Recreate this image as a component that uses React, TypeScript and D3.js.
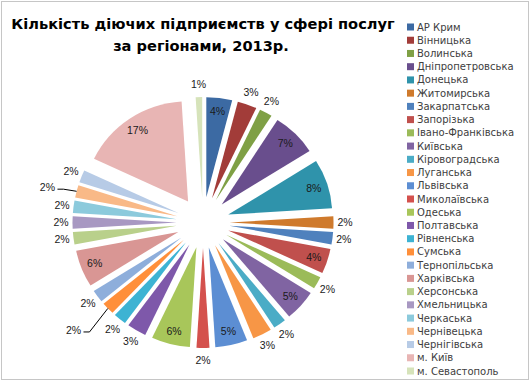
import React from 'react';
import * as d3 from 'd3';

const regions = [
  'АР Крим', 'Вінницька', 'Волинська', 'Дніпропетровська', 'Донецька', 'Житомирська',
  'Закарпатська', 'Запорізька', 'Івано-Франківська', 'Київська', 'Кіровоградська', 'Луганська',
  'Львівська', 'Миколаївська', 'Одеська', 'Полтавська', 'Рівненська', 'Сумська',
  'Тернопільська', 'Харківська', 'Херсонська', 'Хмельницька', 'Черкаська', 'Чернівецька',
  'Чернігівська', 'м. Київ', 'м. Севастополь',
];
const shares = [4, 3, 2, 7, 8, 2, 2, 4, 2, 5, 2, 3, 5, 2, 6, 3, 2, 2, 2, 6, 2, 2, 2, 2, 2, 17, 1];
const titleLines = ['Кількість діючих підприємств у сфері послуг', 'за регіонами, 2013р.'];

const sliceColors = [
  '#3C6AA3', '#A23C39', '#7FA045', '#694E8D', '#2F93AB', '#CF7A2C',
  '#4F81BD', '#C0504D', '#9BBB59', '#8064A2', '#4BACC6', '#F79646',
  '#5C8ED3', '#D4514D', '#A8C65A', '#7E58AA', '#3DB3D3', '#FF8F3A',
  '#8EAEDB', '#D99694', '#B9D08B', '#A898C2', '#8CCADC', '#F9B987',
  '#B7CBE6', '#E8B5B4', '#D6E3BA',
];
// labels that Excel moved away from their slice, drawn with a leader line
const leaderShift: Record<string, [number, number]> = {
  'Сумська': [-26, 13],
  'Чернівецька': [-18, -1],
};

export default function App() {
  const W = 531, H = 383;
  const cx = 203, cy = 222.5, r = 100, explode = 25.5, sx = 1.04;
  const total = d3.sum(shares);
  const pie = d3.pie<number>().sort(null).value((d) => d).startAngle(0).endAngle(2 * Math.PI);
  const arcs = pie(shares);
  const arc = d3.arc<d3.PieArcDatum<number>>().innerRadius(0).outerRadius(r);
  const fmt = (v: number) => `${Math.round((v / total) * 100)}%`;

  const legendY = d3.scalePoint<number>().domain(d3.range(regions.length)).range([27, 371]);
  const font = 'Liberation Sans, Arial, sans-serif';

  return (
    <svg width={W} height={H} style={{ position: 'absolute', left: 0, top: 0, background: '#fff' }}>
      <rect x={1.5} y={1.5} width={527} height={378} fill="#fff" stroke="#8c8c8c" strokeDasharray="1,1" />
      <g fontFamily="DejaVu Sans, sans-serif" fontWeight="bold" fontSize={14.6} textAnchor="middle" fill="#000">
        <text x={203} y={29}>{titleLines[0]}</text>
        <text x={201} y={51}>{titleLines[1]}</text>
      </g>
      <g transform={`translate(${cx},${cy}) scale(${sx},1)`}>
        {arcs.map((a, i) => {
          const mid = (a.startAngle + a.endAngle) / 2;
          const tx = explode * Math.sin(mid), ty = -explode * Math.cos(mid);
          return <path key={i} d={arc(a) || ''} transform={`translate(${tx},${ty})`} fill={sliceColors[i]} />;
        })}
      </g>
      <g fontFamily={font} fontSize={10.5} fill="#1a1a1a" textAnchor="middle">
        {arcs.map((a, i) => {
          const mid = (a.startAngle + a.endAngle) / 2;
          const s = Math.sin(mid), c = Math.cos(mid);
          const inside = shares[i] >= 4;
          if (inside) {
            const R = 112;
            return <text key={i} x={cx + R * s * sx} y={cy - R * c} dy="0.35em">{fmt(shares[i])}</text>;
          }
          let lx = cx + 142 * s, ly = cy - 138 * c;
          const sh = leaderShift[regions[i]];
          if (sh) {
            lx += sh[0]; ly += sh[1];
            const ox = cx + (explode + r) * s * sx, oy = cy - (explode + r) * c;
            return (
              <g key={i}>
                <polyline points={`${lx + 10},${ly + 2} ${lx + 16},${ly + 2} ${ox},${oy}`} fill="none" stroke="#000" strokeWidth={1} />
                <text x={lx} y={ly} dy="0.35em">{fmt(shares[i])}</text>
              </g>
            );
          }
          return <text key={i} x={lx} y={ly} dy="0.35em">{fmt(shares[i])}</text>;
        })}
      </g>
      <g fontFamily="DejaVu Sans, sans-serif" fontSize={10} fill="#404040">
        {regions.map((name, i) => {
          const y = legendY(i) as number;
          return (
            <g key={name}>
              <rect x={407} y={y - 3.5} width={7} height={7} fill={sliceColors[i]} />
              <text x={417} y={y} dy="0.35em">{name}</text>
            </g>
          );
        })}
      </g>
    </svg>
  );
}
